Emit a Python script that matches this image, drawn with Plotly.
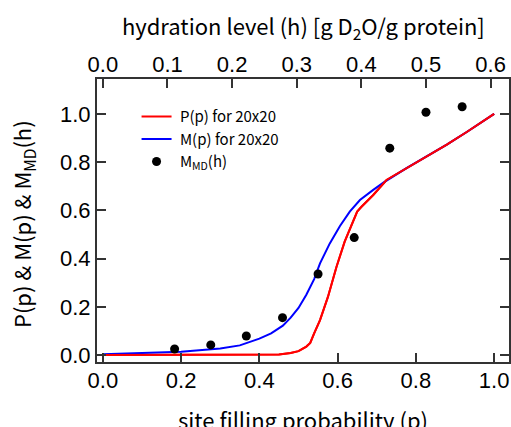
import plotly.graph_objects as go

# P(p) for 20x20 (red)
p_red = [0.0, 0.2, 0.4, 0.45, 0.48, 0.5, 0.52, 0.53, 0.54, 0.555, 0.575, 0.597, 0.618, 0.636,
         0.65, 0.661, 0.691, 0.725, 0.776, 0.828, 0.879, 0.93, 1.0]
P_red = [0.0, 0.0, 0.0, 0.002, 0.008, 0.016, 0.035, 0.05, 0.09, 0.145, 0.24, 0.365, 0.47, 0.545,
         0.595, 0.615, 0.664, 0.726, 0.775, 0.823, 0.873, 0.925, 1.0]

# M(p) for 20x20 (blue)
p_blue = [0.0, 0.1, 0.2, 0.3, 0.35, 0.4, 0.43, 0.46, 0.48, 0.5, 0.52, 0.54, 0.555, 0.58, 0.606,
          0.631, 0.657, 0.691, 0.717, 0.776, 0.828, 0.879, 0.93, 1.0]
M_blue = [0.003, 0.007, 0.014, 0.027, 0.04, 0.068, 0.09, 0.122, 0.155, 0.195, 0.25, 0.315, 0.38,
          0.463, 0.535, 0.595, 0.643, 0.685, 0.715, 0.775, 0.823, 0.873, 0.925, 1.0]

# M_MD(h) (black dots), plotted against hydration level h
h_md = [0.111, 0.167, 0.222, 0.278, 0.333, 0.389, 0.444, 0.500, 0.556]
M_md = [0.025, 0.042, 0.079, 0.155, 0.336, 0.487, 0.858, 1.007, 1.030]

x_ticks = [0.0, 0.2, 0.4, 0.6, 0.8, 1.0]
h_ticks = [0.0, 0.1, 0.2, 0.3, 0.4, 0.5, 0.6]
y_ticks = [0.0, 0.2, 0.4, 0.6, 0.8, 1.0]

x_title = "site filling probability (p)"
x2_title = "hydration level (h) [g D<sub>2</sub>O/g protein]"
y_title = "P(p) &amp; M(p) &amp; M<sub>MD</sub>(h)"

p_range = [-0.015, 1.038]
h_scale = 0.6055
h_range = [p_range[0] * h_scale, p_range[1] * h_scale]

FONT = "Liberation Sans Narrow, Arial Narrow, Liberation Sans, sans-serif"
TFONT = "Noto Sans CJK JP, Liberation Sans, sans-serif"
AX = "#333333"

fig = go.Figure()
fig.add_trace(go.Scatter(x=p_red, y=P_red, mode="lines", line=dict(color="#ff0000", width=2),
                         name="&nbsp;P(p) for 20x20"))
fig.add_trace(go.Scatter(x=p_blue, y=M_blue, mode="lines", line=dict(color="#0000ff", width=2),
                         name="&nbsp;M(p) for 20x20"))
# redraw red on top where they overlap
fig.add_trace(go.Scatter(x=p_red, y=P_red, mode="lines", line=dict(color="#ff0000", width=2),
                         showlegend=False, hoverinfo="skip"))
fig.add_trace(go.Scatter(x=h_md, y=M_md, mode="markers", xaxis="x2",
                         marker=dict(color="black", size=9),
                         name="&nbsp;M<sub>MD</sub>(h)"))

common = dict(showgrid=False, zeroline=False, showline=True, linecolor=AX, linewidth=2,
              ticks="inside", ticklen=9, tickwidth=1.5, tickcolor=AX, automargin=False,
              ticklabeloverflow="allow",
              tickfont=dict(family=FONT, size=22, color="black"))

tf = dict(family=TFONT, size=22, color="black")

fig.update_layout(
    width=511, height=427,
    margin=dict(l=97, r=2, t=79, b=65),
    paper_bgcolor="white", plot_bgcolor="white",
    showlegend=True,
    legend=dict(x=0.096, y=0.925, xanchor="left", yanchor="top",
                bgcolor="rgba(0,0,0,0)", font=dict(family=TFONT, size=15, color="black"),
                tracegroupgap=0, itemwidth=30),
    xaxis=dict(range=p_range, tickvals=x_ticks, ticktext=[f"{v:.1f}" for v in x_ticks],
               ticklabelstandoff=-2, **common),
    xaxis2=dict(range=h_range, overlaying="x", side="top", tickvals=h_ticks,
                ticktext=[f"{v:.1f}" for v in h_ticks], ticklabelstandoff=-4, **common),
    yaxis=dict(range=[-0.029, 1.145], tickvals=y_ticks, ticktext=[f"{v:.1f}" for v in y_ticks],
               mirror="ticks", **common),
    annotations=[
        dict(text=x_title, xref="paper", yref="paper", x=0.5, y=0, xanchor="center",
             yanchor="middle", yshift=-57, showarrow=False, font=tf),
        dict(text=x2_title, xref="paper", yref="paper", x=0.5, y=1, xanchor="center",
             yanchor="middle", yshift=53, showarrow=False, font=tf),
        dict(text=y_title, xref="paper", yref="paper", x=0, y=0.5, xanchor="center",
             yanchor="middle", xshift=-74.5, yshift=-4, textangle=-90, showarrow=False, font=tf),
    ],
)

# remove the default 8px page margin so the 511x427 figure fills the window exactly
fig.write_html("out.html", config={"displayModeBar": False},
               post_script="document.body.style.margin='0';")
